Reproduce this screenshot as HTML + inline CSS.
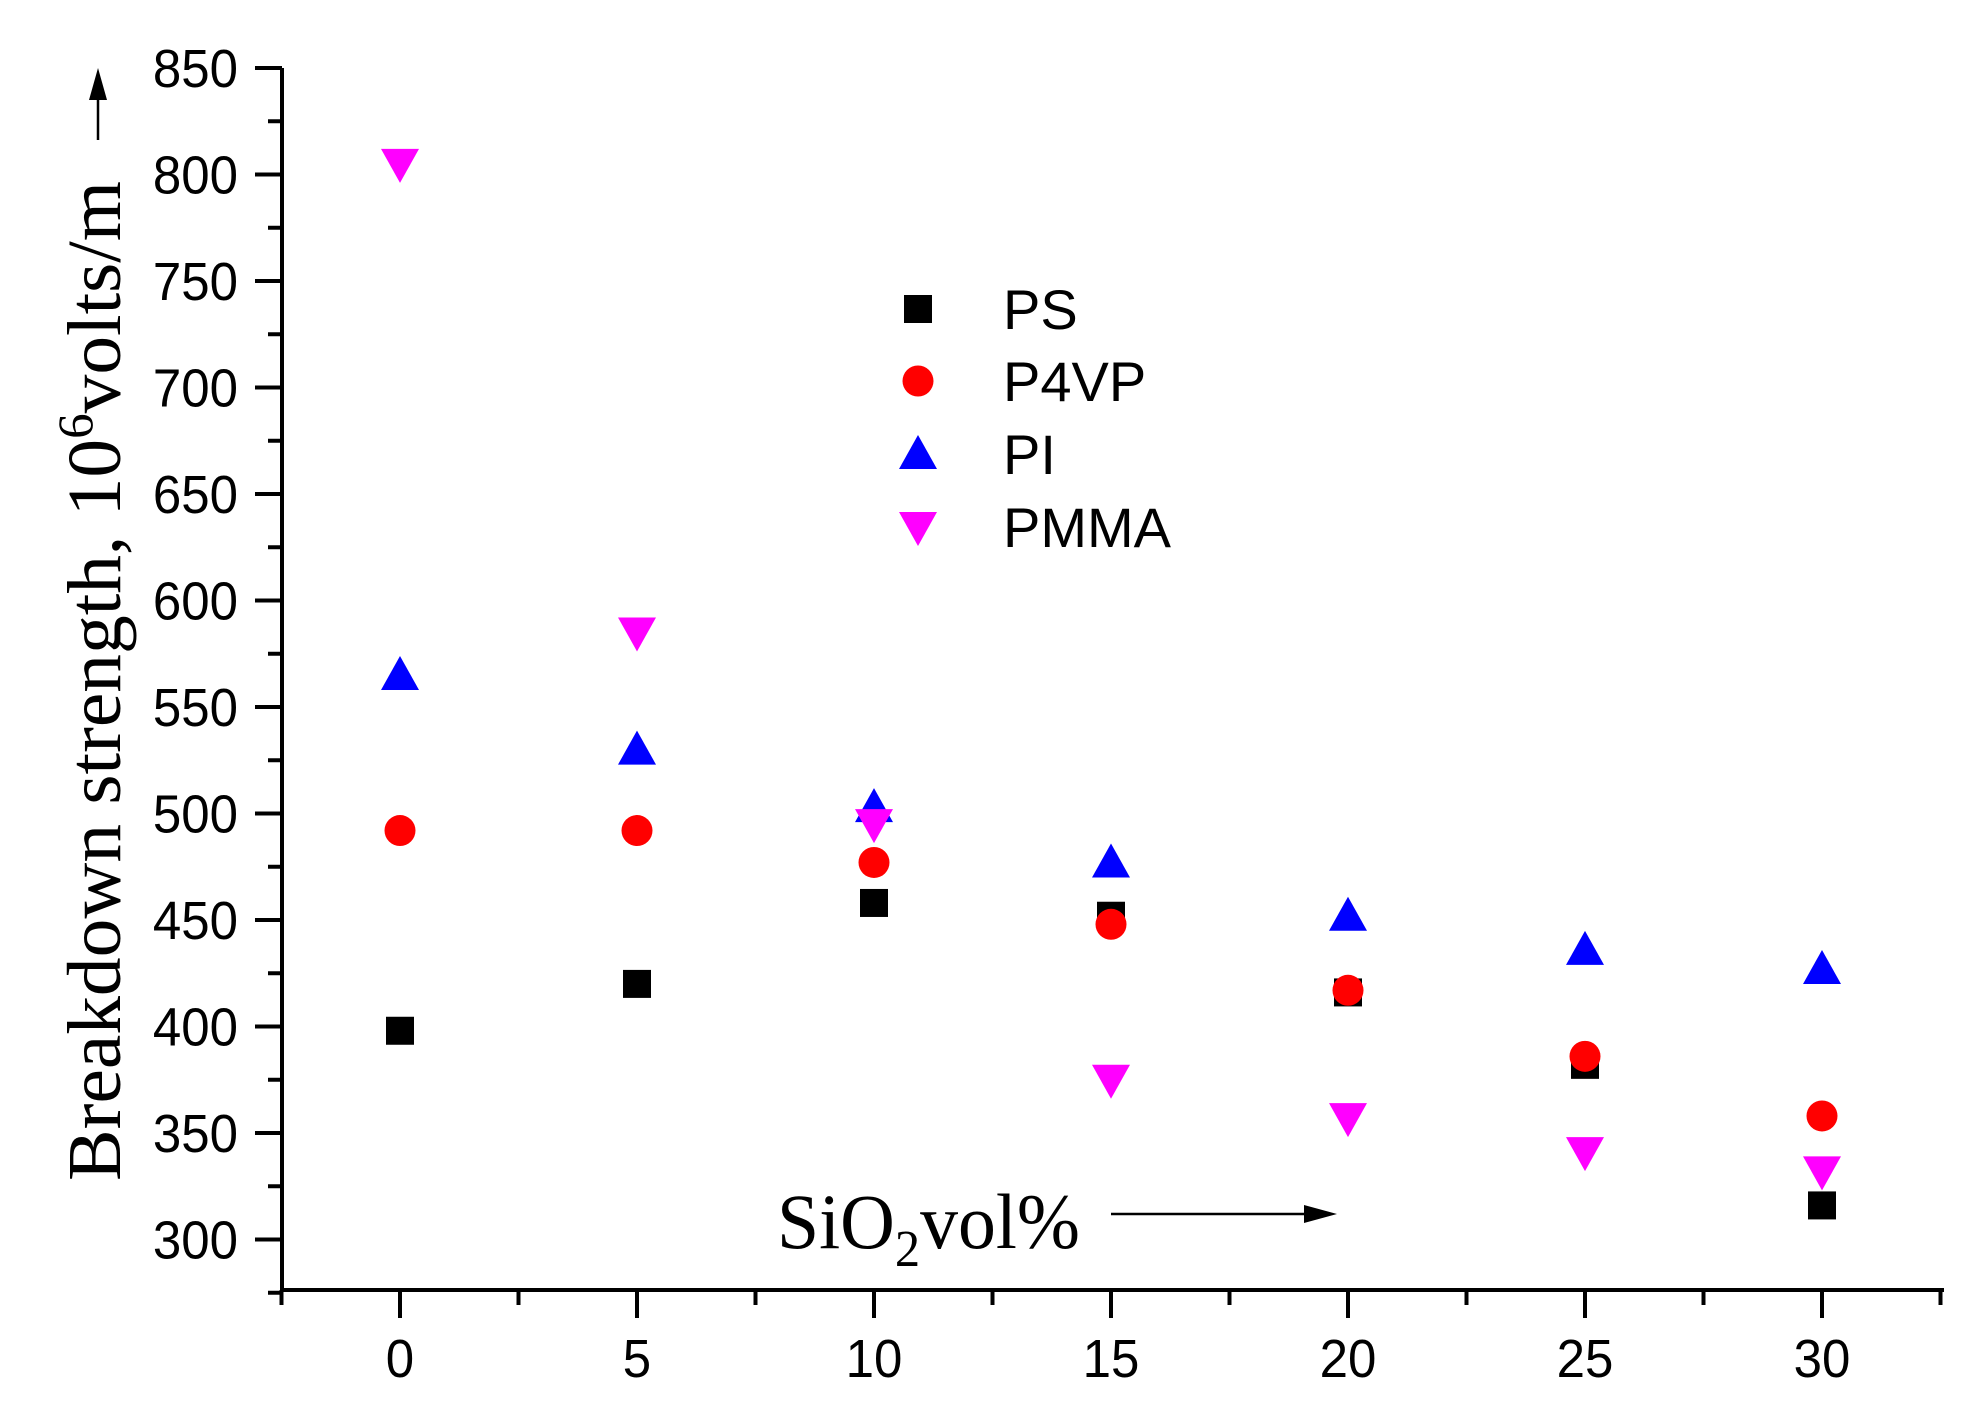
<!DOCTYPE html>
<html><head><meta charset="utf-8"><style>
html,body{margin:0;padding:0;background:#fff;}
svg{display:block;}
</style></head><body>
<svg id="chart" width="1986" height="1424" viewBox="0 0 1986 1424" xmlns="http://www.w3.org/2000/svg">
<g id="axes"></g>
<g id="marks"></g>
<g id="legend"></g>
<text transform="translate(120,1181) rotate(-90)" font-family="'Liberation Serif',serif" font-size="76" textLength="1000" lengthAdjust="spacingAndGlyphs">Breakdown strength, 10<tspan dy="-28" font-size="50">6</tspan><tspan dy="28">volts/m</tspan></text>
<g>
<line x1="98" y1="140" x2="98" y2="92" stroke="#000" stroke-width="2.5"/>
<polygon points="89,100 107,100 98,68" fill="#000"/>
</g>
<text x="777" y="1248" font-family="'Liberation Serif',serif" font-size="78" textLength="303" lengthAdjust="spacingAndGlyphs">SiO<tspan dy="18" font-size="52">2</tspan><tspan dy="-18">vol%</tspan></text>
<g>
<line x1="1111" y1="1214" x2="1310" y2="1214" stroke="#000" stroke-width="2.5"/>
<polygon points="1304,1205 1304,1223 1337,1214" fill="#000"/>
</g>
</svg>
<script>
const xValues = [0, 5, 10, 15, 20, 25, 30];
const psValues = [398, 420, 458, 452, 416, 382, 316];
const p4vpValues = [492, 492, 477, 448, 417, 386, 358];
const piValues = [565, 530, 503, 477, 452, 436, 427];
const pmmaValues = [805, 585, 495, 375, 357, 341, 332];
const yTicks = [300, 350, 400, 450, 500, 550, 600, 650, 700, 750, 800, 850];
const xTicks = [0, 5, 10, 15, 20, 25, 30];
const seriesNames = ["PS", "P4VP", "PI", "PMMA"];

const NS = "http://www.w3.org/2000/svg";
const X0 = 282, X1 = 1944, Y0 = 1290, YT = 68;
function sx(v){ return 400 + (v - 0) * 47.4; }
function sy(v){ return 68 + (850 - v) * 2.13; }
function mk(tag, attrs, parent){
  const e = document.createElementNS(NS, tag);
  for (const k in attrs) e.setAttribute(k, attrs[k]);
  parent.appendChild(e);
  return e;
}
const axes = document.getElementById('axes');
const marks = document.getElementById('marks');
const legend = document.getElementById('legend');

let yl = mk('line', {x1:X0, y1:YT, x2:X0, y2:Y0+2, stroke:'#000', 'stroke-width':4}, axes);


let xl = mk('line', {x1:X0-2, y1:Y0, x2:X1, y2:Y0, stroke:'#000', 'stroke-width':4}, axes);



for (let v = 275; v <= 850; v += 25) {
  const y = sy(v);
  const major = (v % 50 === 0);
  const t = mk('line', {x1: major ? 255 : 268, y1:y, x2:X0, y2:y, stroke:'#000', 'stroke-width':4}, axes);
  
  
}
yTicks.forEach(v => {
  const t = mk('text', {x:238, y:sy(v)+19, 'text-anchor':'end', 'font-family':"'Liberation Sans',sans-serif", 'font-size':51, transform:`translate(0,${-(sy(v)+19)*0.06}) scale(1,1.06)`}, axes);
  t.textContent = v;
  
  
});
for (let v = -2.5; v <= 32.5; v += 2.5) {
  const x = sx(v);
  if (x > X1 + 1) break;
  const major = (Math.abs(v % 5) < 0.01);
  const t = mk('line', {x1:x, y1:Y0, x2:x, y2: major ? 1318 : 1305, stroke:'#000', 'stroke-width':4}, axes);
  
  
}
xTicks.forEach(v => {
  const t = mk('text', {x:sx(v), y:1377, 'text-anchor':'middle', 'font-family':"'Liberation Sans',sans-serif", 'font-size':51, transform:`translate(0,${-1377*0.06}) scale(1,1.06)`}, axes);
  t.textContent = v;
  
  
});

function marker(kind, cx, cy, parent){
  let e;
  if (kind === 0) e = mk('rect', {x:cx-14, y:cy-14, width:28, height:28, fill:'#000'}, parent);
  else if (kind === 1) e = mk('circle', {cx:cx, cy:cy, r:15.5, fill:'#ff0000'}, parent);
  else if (kind === 2) e = mk('polygon', {points:`${cx-19},${cy+15} ${cx+19},${cy+15} ${cx},${cy-19}`, fill:'#0000ff'}, parent);
  else e = mk('polygon', {points:`${cx-19},${cy-15} ${cx+19},${cy-15} ${cx},${cy+19}`, fill:'#ff00ff'}, parent);
  return e;
}
const allSeries = [psValues, p4vpValues, piValues, pmmaValues];
const order = [0, 2, 3, 1];
order.forEach(si => {
  allSeries[si].forEach((v, i) => {
    const e = marker(si, sx(xValues[i]), sy(v), marks);
    
    
  });
});

const legY = [309, 381, 454, 527];
seriesNames.forEach((n, i) => {
  const g = mk('g', {}, legend);
  
  
  marker(i, 918, legY[i], g);
  const t = mk('text', {x:1003, y:legY[i]+20, 'font-family':"'Liberation Sans',sans-serif", 'font-size':56}, g);
  t.textContent = n;
});
</script>
</body></html>
